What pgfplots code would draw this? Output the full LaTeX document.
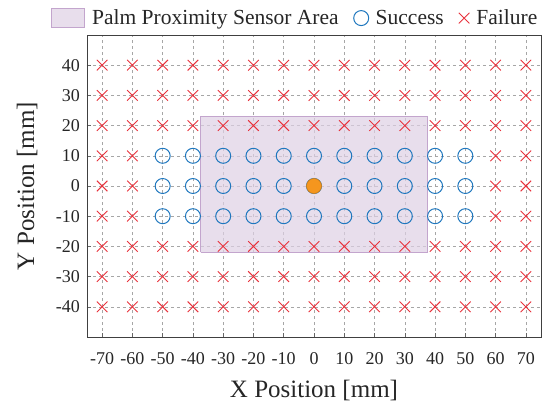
\documentclass[border=0pt]{standalone}
\usepackage{fontspec}
\setmainfont{Liberation Serif}
\usepackage{pgfplots}
\pgfplotsset{compat=1.18}
\definecolor{succ}{RGB}{31,119,190}
\definecolor{fail}{RGB}{232,50,60}
\definecolor{areaf}{RGB}{222,208,228}
\definecolor{areae}{RGB}{195,165,205}
\definecolor{orng}{RGB}{245,150,30}
\begin{document}
\begin{tikzpicture}
\begin{axis}[
 name=ax, at={(0,0)}, anchor=south west,
 scale only axis, width=454pt, height=302pt,
 xmin=-75, xmax=75, ymin=-50, ymax=50,
 xtick={-70,-60,...,70}, ytick={-40,-30,...,40},
 xticklabels={-70,-60,-50,-40,-30,-20,-10,0,10,20,30,40,50,60,70},
 yticklabels={-40,-30,-20,-10,0,10,20,30,40},
 tick label style={font=\fontsize{18}{20}\selectfont, text=black!85},
 xticklabel shift=12pt, yticklabel shift=3.5pt,
 grid=major, grid style={dashed, color=black!35, line width=0.6pt},
 tick align=inside, major tick length=4pt, xtick pos=bottom, ytick pos=left,
 major tick style={draw=black!60, line width=0.6pt},
 axis line style={draw=black!75, line width=0.9pt},
 xlabel={X Position [mm]}, ylabel={Y Position [mm]},
 label style={font=\fontsize{25}{28}\selectfont, text=black!85},
 xlabel style={at={(axis description cs:0.5,-0.177)}, anchor=center},
 ylabel style={at={(axis description cs:-0.132,0.5)}, anchor=center},
 legend style={at={(axis description cs:0.459,1.056)}, anchor=center, draw=none, fill=none,
   font=\fontsize{21.5}{24}\selectfont, text=black!85,
   /tikz/every odd column/.append style={column sep=5pt},
   /tikz/every even column/.append style={column sep=13pt}},
 legend columns=3,
]
\addplot[fill=areaf, fill opacity=0.7, draw=areae, line width=0.8pt,
  legend image code/.code={\draw[fill=areaf, fill opacity=0.7, draw=areae, line width=0.6pt] (0pt,-9.5pt) rectangle (33pt,9.5pt);}]
  coordinates {(-37.5,-22) (37.5,-22) (37.5,23) (-37.5,23) (-37.5,-22)};
\addlegendentry{Palm Proximity Sensor Area}
\addplot[only marks, mark=o, mark size=7.5pt, mark options={draw=succ, line width=1pt}]
  coordinates {
  (-50,10) (-40,10) (-30,10) (-20,10) (-10,10) (0,10) (10,10) (20,10) (30,10) (40,10) (50,10)
  (-50,0) (-40,0) (-30,0) (-20,0) (-10,0) (0,0) (10,0) (20,0) (30,0) (40,0) (50,0)
  (-50,-10) (-40,-10) (-30,-10) (-20,-10) (-10,-10) (0,-10) (10,-10) (20,-10) (30,-10) (40,-10) (50,-10)
  };
\addlegendentry{Success}
\addplot[only marks, mark=x, mark size=7.5pt, mark options={draw=fail, line width=0.9pt}]
  coordinates {
  (-70,40) (-60,40) (-50,40) (-40,40) (-30,40) (-20,40) (-10,40) (0,40) (10,40) (20,40) (30,40) (40,40) (50,40) (60,40) (70,40)
  (-70,30) (-60,30) (-50,30) (-40,30) (-30,30) (-20,30) (-10,30) (0,30) (10,30) (20,30) (30,30) (40,30) (50,30) (60,30) (70,30)
  (-70,20) (-60,20) (-50,20) (-40,20) (-30,20) (-20,20) (-10,20) (0,20) (10,20) (20,20) (30,20) (40,20) (50,20) (60,20) (70,20)
  (-70,10) (-60,10) (60,10) (70,10)
  (-70,0) (-60,0) (60,0) (70,0)
  (-70,-10) (-60,-10) (60,-10) (70,-10)
  (-70,-20) (-60,-20) (-50,-20) (-40,-20) (-30,-20) (-20,-20) (-10,-20) (0,-20) (10,-20) (20,-20) (30,-20) (40,-20) (50,-20) (60,-20) (70,-20)
  (-70,-30) (-60,-30) (-50,-30) (-40,-30) (-30,-30) (-20,-30) (-10,-30) (0,-30) (10,-30) (20,-30) (30,-30) (40,-30) (50,-30) (60,-30) (70,-30)
  (-70,-40) (-60,-40) (-50,-40) (-40,-40) (-30,-40) (-20,-40) (-10,-40) (0,-40) (10,-40) (20,-40) (30,-40) (40,-40) (50,-40) (60,-40) (70,-40)
  };
\addlegendentry{Failure}
\addplot[only marks, mark=*, mark size=7.5pt, mark options={fill=orng, draw=orng!85!black, line width=0.6pt}, forget plot]
  coordinates {(0,0)};
\end{axis}
\pgfresetboundingbox
\path ([xshift=-87pt,yshift=-66pt]ax.south west) rectangle ([xshift=4pt,yshift=35pt]ax.north east);
\end{tikzpicture}
\end{document}
